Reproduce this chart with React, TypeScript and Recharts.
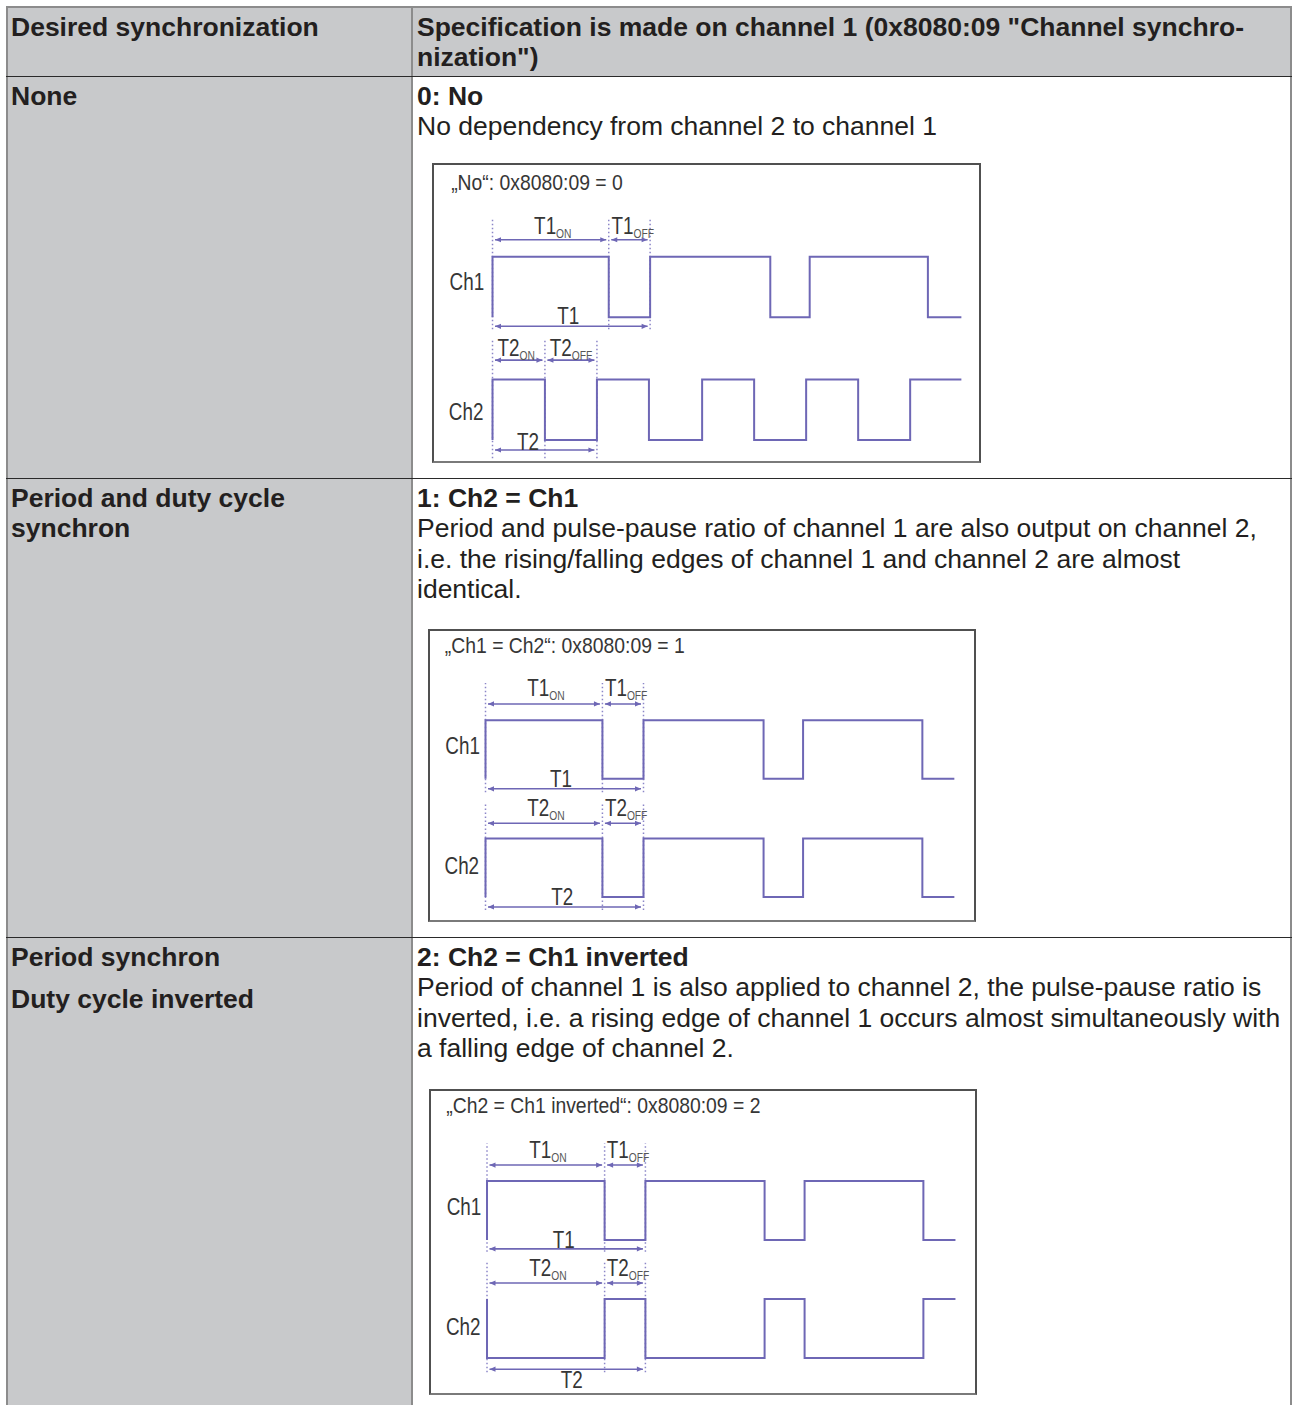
import React from 'react';
import { LineChart, Line, XAxis, YAxis, ReferenceLine, ReferenceDot } from 'recharts';

const FONT = '"Liberation Sans", Arial, Helvetica, sans-serif';
const WAVE = '#6e67b5';
const DOTC = '#8c86c8';
const DTXT = '#363636';
const TXT = '#231f20';
const GRAY = '#c8c9cb';

type Pt = { t: number; v: number };
type Arrow = { t0: number; t1: number; y: number };
type Lbl = { t: number; y: number; main: string; sub?: string };

// ---------- Diagram 1: "No" ----------
const d1Ch1: Pt[] = [
  { t: 0, v: 0 }, { t: 0, v: 1 }, { t: 2.95, v: 0 }, { t: 4, v: 1 }, { t: 7.05, v: 0 },
  { t: 8.05, v: 1 }, { t: 11.05, v: 0 }, { t: 11.9, v: 0 },
];
const d1Ch2: Pt[] = [
  { t: 0, v: 0 }, { t: 0, v: 1 }, { t: 1.33, v: 0 }, { t: 2.65, v: 1 }, { t: 3.97, v: 0 },
  { t: 5.32, v: 1 }, { t: 6.64, v: 0 }, { t: 7.96, v: 1 }, { t: 9.28, v: 0 }, { t: 10.6, v: 1 },
  { t: 11.9, v: 1 },
];
const d1Ch1Marks = [0, 2.95, 4];
const d1Ch2Marks = [0, 1.33, 2.65];
const d1Arrows: Arrow[] = [
  { t0: 0, t1: 2.95, y: 3.31 }, { t0: 2.95, t1: 4, y: 3.31 }, { t0: 0, t1: 4, y: 1.88 },
  { t0: 0, t1: 1.33, y: 1.32 }, { t0: 1.33, t1: 2.65, y: 1.32 }, { t0: 0, t1: 2.65, y: -0.165 },
];
const d1Labels: Lbl[] = [
  { t: 1.53, y: 3.55, main: 'T1', sub: 'ON' }, { t: 3.56, y: 3.55, main: 'T1', sub: 'OFF' },
  { t: 1.92, y: 2.05, main: 'T1' }, { t: 0.6, y: 1.52, main: 'T2', sub: 'ON' },
  { t: 1.99, y: 1.52, main: 'T2', sub: 'OFF' }, { t: 0.9, y: -0.02, main: 'T2' },
  { t: -0.65, y: 2.61, main: 'Ch1' }, { t: -0.67, y: 0.46, main: 'Ch2' },
];

// ---------- Diagram 2: "Ch1 = Ch2" ----------
const d2Ch1: Pt[] = [
  { t: 0, v: 0 }, { t: 0, v: 1 }, { t: 2.96, v: 0 }, { t: 4, v: 1 }, { t: 7.04, v: 0 },
  { t: 8.04, v: 1 }, { t: 11.06, v: 0 }, { t: 11.87, v: 0 },
];
const d2Ch2: Pt[] = [
  { t: 0, v: 0 }, { t: 0, v: 1 }, { t: 2.96, v: 0 }, { t: 4, v: 1 }, { t: 7.04, v: 0 },
  { t: 8.04, v: 1 }, { t: 11.06, v: 0 }, { t: 11.87, v: 0 },
];
const d2Ch1Marks = [0, 2.96, 4];
const d2Ch2Marks = [0, 2.96, 4];
const d2Arrows: Arrow[] = [
  { t0: 0, t1: 2.96, y: 3.3 }, { t0: 2.96, t1: 4, y: 3.3 }, { t0: 0, t1: 4, y: 1.85 },
  { t0: 0, t1: 2.96, y: 1.26 }, { t0: 2.96, t1: 4, y: 1.26 }, { t0: 0, t1: 4, y: -0.17 },
];
const d2Labels: Lbl[] = [
  { t: 1.53, y: 3.57, main: 'T1', sub: 'ON' }, { t: 3.56, y: 3.57, main: 'T1', sub: 'OFF' },
  { t: 1.91, y: 2.03, main: 'T1' }, { t: 1.53, y: 1.52, main: 'T2', sub: 'ON' },
  { t: 3.56, y: 1.52, main: 'T2', sub: 'OFF' }, { t: 1.94, y: 0.0, main: 'T2' },
  { t: -0.58, y: 2.58, main: 'Ch1' }, { t: -0.6, y: 0.53, main: 'Ch2' },
];

// ---------- Diagram 3: "Ch2 = Ch1 inverted" ----------
const d3Ch1: Pt[] = [
  { t: 0, v: 0 }, { t: 0, v: 1 }, { t: 2.97, v: 0 }, { t: 4, v: 1 }, { t: 7.01, v: 0 },
  { t: 8.02, v: 1 }, { t: 11.02, v: 0 }, { t: 11.83, v: 0 },
];
const d3Ch2: Pt[] = [
  { t: 0, v: 1 }, { t: 0, v: 0 }, { t: 2.97, v: 1 }, { t: 4, v: 0 }, { t: 7.01, v: 1 },
  { t: 8.02, v: 0 }, { t: 11.02, v: 1 }, { t: 11.83, v: 1 },
];
const d3Ch1Marks = [0, 2.97, 4];
const d3Ch2Marks = [0, 2.97, 4];
const d3Arrows: Arrow[] = [
  { t0: 0, t1: 2.97, y: 3.27 }, { t0: 2.97, t1: 4, y: 3.27 }, { t0: 0, t1: 4, y: 1.85 },
  { t0: 0, t1: 2.97, y: 1.27 }, { t0: 2.97, t1: 4, y: 1.27 }, { t0: 0, t1: 4, y: -0.19 },
];
const d3Labels: Lbl[] = [
  { t: 1.54, y: 3.53, main: 'T1', sub: 'ON' }, { t: 3.56, y: 3.53, main: 'T1', sub: 'OFF' },
  { t: 1.94, y: 2.0, main: 'T1' }, { t: 1.54, y: 1.53, main: 'T2', sub: 'ON' },
  { t: 3.56, y: 1.53, main: 'T2', sub: 'OFF' }, { t: 2.14, y: -0.37, main: 'T2' },
  { t: -0.58, y: 2.56, main: 'Ch1' }, { t: -0.6, y: 0.53, main: 'Ch2' },
];

type Cfg = {
  left: number; top: number; width: number; height: number;
  xDomain: [number, number]; yDomain: [number, number]; ch1Offset: number;
  ch1: Pt[]; ch2: Pt[]; ch1Marks: number[]; ch2Marks: number[];
  ch1MarkY: [number, number]; ch2MarkY: [number, number];
  arrows: Arrow[]; labels: Lbl[]; title: string; titlePos: { t: number; y: number };
};

const diagrams: Cfg[] = [
  {
    left: 432, top: 163, width: 549, height: 300,
    xDomain: [-1.536, 12.398], yDomain: [-0.38, 4.579], ch1Offset: 2.03,
    ch1: d1Ch1, ch2: d1Ch2, ch1Marks: d1Ch1Marks, ch2Marks: d1Ch2Marks,
    ch1MarkY: [1.83, 3.66], ch2MarkY: [-0.3, 1.64],
    arrows: d1Arrows, labels: d1Labels,
    title: '\u201ENo\u201C: 0x8080:09 = 0', titlePos: { t: -1.05, y: 4.26 },
  },
  {
    left: 428, top: 629, width: 548, height: 293,
    xDomain: [-1.456, 12.418], yDomain: [-0.427, 4.581], ch1Offset: 2.02,
    ch1: d2Ch1, ch2: d2Ch2, ch1Marks: d2Ch1Marks, ch2Marks: d2Ch2Marks,
    ch1MarkY: [1.79, 3.66], ch2MarkY: [-0.22, 1.62],
    arrows: d2Arrows, labels: d2Labels,
    title: '\u201ECh1 = Ch2\u201C: 0x8080:09 = 1', titlePos: { t: -1.03, y: 4.31 },
  },
  {
    left: 429, top: 1089, width: 548, height: 306,
    xDomain: [-1.465, 12.374], yDomain: [-0.627, 4.559], ch1Offset: 2.0,
    ch1: d3Ch1, ch2: d3Ch2, ch1Marks: d3Ch1Marks, ch2Marks: d3Ch2Marks,
    ch1MarkY: [1.8, 3.64], ch2MarkY: [-0.24, 1.63],
    arrows: d3Arrows, labels: d3Labels,
    title: '\u201ECh2 = Ch1 inverted\u201C: 0x8080:09 = 2', titlePos: { t: -1.03, y: 4.29 },
  },
];

const arrowShape = (p: any) => {
  const { x1, y1, x2 } = p;
  const xa = Math.min(x1, x2) + 2.5;
  const xb = Math.max(x1, x2) - 2.5;
  const h = 6;
  const w = 2.6;
  return (
    <g>
      <line x1={xa} y1={y1} x2={xb} y2={y1} stroke={WAVE} strokeWidth={1.6} />
      <polygon points={`${xa},${y1} ${xa + h},${y1 - w} ${xa + h},${y1 + w}`} fill={WAVE} />
      <polygon points={`${xb},${y1} ${xb - h},${y1 - w} ${xb - h},${y1 + w}`} fill={WAVE} />
    </g>
  );
};

const textShape = (
  main: string,
  sub: string | undefined,
  anchor: 'start' | 'middle',
  size: number,
  sx: number,
) => (p: any) => (
  <text
    transform={`translate(${p.cx} ${p.cy + size * 0.36}) scale(${sx} 1)`}
    x={0}
    y={0}
    textAnchor={anchor}
    fontFamily={FONT}
    fontSize={size}
    fill={DTXT}
  >
    {main}
    {sub ? (
      <tspan fontSize={12.5} dy={4} fill="#555">
        {sub}
      </tspan>
    ) : null}
  </text>
);

function Diagram({ c }: { c: Cfg }) {
  const s1 = c.ch1.map((p) => ({ t: p.t, v: p.v + c.ch1Offset }));
  const s2 = c.ch2.map((p) => ({ t: p.t, v: p.v }));
  return (
    <div
      style={{
        position: 'absolute',
        left: c.left,
        top: c.top,
        width: c.width,
        height: c.height,
        boxSizing: 'border-box',
        borderTop: '2px solid #505050',
        borderLeft: '2px solid #505050',
        borderRight: '2px solid #505050',
        borderBottom: '2px solid #7a7a7a',
        background: '#fff',
      }}
    >
      <div style={{ position: 'absolute', left: -2, top: -2 }}>
        <LineChart width={c.width} height={c.height} margin={{ top: 0, right: 0, bottom: 0, left: 0 }}>
          <XAxis type="number" dataKey="t" domain={c.xDomain} allowDataOverflow hide />
          <YAxis type="number" domain={c.yDomain} allowDataOverflow hide />
          {c.ch1Marks.map((t, i) => (
            <ReferenceLine
              key={'m1' + i}
              segment={[{ x: t, y: c.ch1MarkY[0] }, { x: t, y: c.ch1MarkY[1] }]}
              stroke={DOTC}
              strokeWidth={1.5}
              strokeDasharray="1.5 2.5"
              ifOverflow="visible"
            />
          ))}
          {c.ch2Marks.map((t, i) => (
            <ReferenceLine
              key={'m2' + i}
              segment={[{ x: t, y: c.ch2MarkY[0] }, { x: t, y: c.ch2MarkY[1] }]}
              stroke={DOTC}
              strokeWidth={1.5}
              strokeDasharray="1.5 2.5"
              ifOverflow="visible"
            />
          ))}
          <Line data={s1} dataKey="v" type="stepAfter" stroke={WAVE} strokeWidth={2} dot={false} isAnimationActive={false} />
          <Line data={s2} dataKey="v" type="stepAfter" stroke={WAVE} strokeWidth={2} dot={false} isAnimationActive={false} />
          {c.arrows.map((a, i) => (
            <ReferenceLine
              key={'a' + i}
              segment={[{ x: a.t0, y: a.y }, { x: a.t1, y: a.y }]}
              shape={arrowShape}
              ifOverflow="visible"
            />
          ))}
          {c.labels.map((l, i) => (
            <ReferenceDot
              key={'l' + i}
              x={l.t}
              y={l.y}
              r={1}
              ifOverflow="visible"
              shape={textShape(l.main, l.sub, 'middle', 23, 0.82)}
            />
          ))}
          <ReferenceDot
            x={c.titlePos.t}
            y={c.titlePos.y}
            r={1}
            ifOverflow="visible"
            shape={textShape(c.title, undefined, 'start', 22, 0.88)}
          />
        </LineChart>
      </div>
    </div>
  );
}

const FS = 26.5;
const LH = 30.6;

const txt = (left: number, top: number, lines: { s: string; b?: boolean }[]) => (
  <div style={{ position: 'absolute', left, top, fontSize: FS, lineHeight: LH + 'px', color: TXT, whiteSpace: 'nowrap' }}>
    {lines.map((l, i) => (
      <div key={i} style={{ fontWeight: l.b ? 700 : 400 }}>
        {l.s}
      </div>
    ))}
  </div>
);

export default function App() {
  const hl = (top: number) => (
    <div style={{ position: 'absolute', left: 6, top, width: 1286, height: 1.5, background: '#2a2a2a' }} />
  );
  return (
    <div
      style={{
        position: 'absolute',
        left: 0,
        top: 0,
        width: 1297,
        height: 1405,
        overflow: 'hidden',
        background: '#fff',
        fontFamily: FONT,
      }}
    >
      {/* backgrounds */}
      <div style={{ position: 'absolute', left: 6, top: 6, width: 406, height: 1410, background: GRAY }} />
      <div style={{ position: 'absolute', left: 412, top: 6, width: 879, height: 70, background: GRAY }} />
      {/* borders */}
      <div style={{ position: 'absolute', left: 6, top: 6, width: 1286, height: 1.5, background: '#8c8c8c' }} />
      <div style={{ position: 'absolute', left: 6, top: 6, width: 1.5, height: 1410, background: '#8c8c8c' }} />
      <div style={{ position: 'absolute', left: 1290, top: 6, width: 1.5, height: 1410, background: '#8c8c8c' }} />
      <div style={{ position: 'absolute', left: 411, top: 6, width: 1.8, height: 1410, background: '#8c8c8c' }} />
      {hl(75.5)}
      {hl(477.5)}
      {hl(936.5)}

      {/* header */}
      {txt(11, 11.7, [{ s: 'Desired synchronization', b: true }])}
      {txt(417, 11.7, [
        { s: 'Specification is made on channel 1 (0x8080:09 "Channel synchro-', b: true },
        { s: 'nization")', b: true },
      ])}

      {/* row 1 */}
      {txt(11, 80.7, [{ s: 'None', b: true }])}
      {txt(417, 80.7, [{ s: '0: No', b: true }, { s: 'No dependency from channel 2 to channel 1' }])}

      {/* row 2 */}
      {txt(11, 482.7, [{ s: 'Period and duty cycle', b: true }, { s: 'synchron', b: true }])}
      {txt(417, 482.7, [
        { s: '1: Ch2 = Ch1', b: true },
        { s: 'Period and pulse-pause ratio of channel 1 are also output on channel 2,' },
        { s: 'i.e. the rising/falling edges of channel 1 and channel 2 are almost' },
        { s: 'identical.' },
      ])}

      {/* row 3 */}
      {txt(11, 941.7, [{ s: 'Period synchron', b: true }])}
      {txt(11, 983.7, [{ s: 'Duty cycle inverted', b: true }])}
      {txt(417, 941.7, [
        { s: '2: Ch2 = Ch1 inverted', b: true },
        { s: 'Period of channel 1 is also applied to channel 2, the pulse-pause ratio is' },
        { s: 'inverted, i.e. a rising edge of channel 1 occurs almost simultaneously with' },
        { s: 'a falling edge of channel 2.' },
      ])}

      {diagrams.map((c, i) => (
        <Diagram key={i} c={c} />
      ))}
    </div>
  );
}
